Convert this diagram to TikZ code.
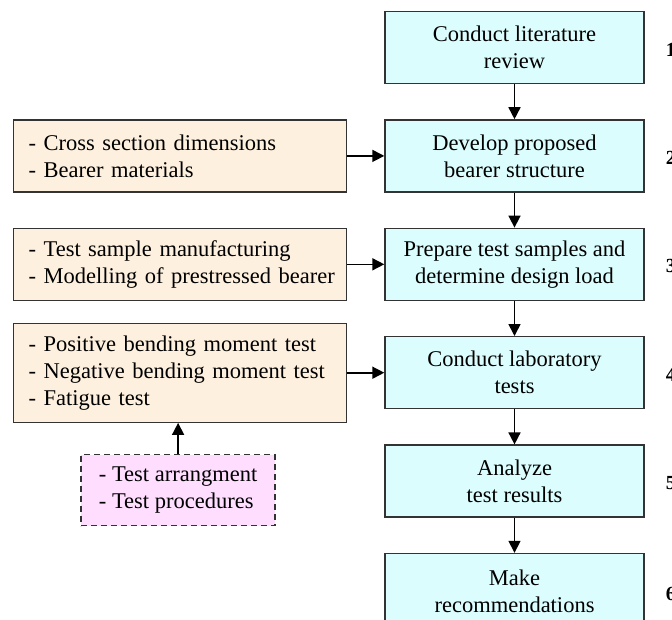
\documentclass[tikz,border=0pt]{standalone}
\usepackage{fontspec}
\setmainfont{Liberation Serif}
\usepackage{xcolor}
\usetikzlibrary{arrows.meta,positioning}
\definecolor{stagecyan}{HTML}{DCFDFD}
\definecolor{inputtan}{HTML}{FEF0DE}
\definecolor{extrapink}{HTML}{FEDDFE}

\begin{document}
\begin{tikzpicture}[font=\fontsize{22.5}{27}\selectfont,node distance=35pt,
 stage/.style={draw=black!80,line width=1.4pt,fill=stagecyan,align=center,minimum width=259pt,minimum height=72pt,inner sep=0pt},
 input/.style={draw=black!80,line width=1.4pt,fill=inputtan,align=left,text width=313pt,inner xsep=10pt,minimum height=72pt},
 extra/.style={draw=black!80,line width=1.4pt,dash pattern=on 6pt off 4pt,fill=extrapink,align=left,minimum width=194pt,minimum height=71pt},
 arrow/.style={-{Triangle[length=12pt,width=12pt]},line width=1.6pt}]
\useasboundingbox (0,0) rectangle (672pt,-619pt);
\node[stage] (lit) at (514.5pt,-47.5pt) {Conduct literature\\review};
\node[stage,below=of lit] (dev) {Develop proposed\\bearer structure};
\node[stage,below=of dev] (prep) {Prepare test samples and\\determine design load};
\node[stage,below=of prep] (lab) {Conduct laboratory\\tests};
\node[stage,below=of lab] (ana) {Analyze\\test results};
\node[stage,below=of ana,minimum height=76pt] (rec) {Make\\recommendations};
\node[input,left=37pt of dev] (sect) {\hspace*{5pt}- Cross section dimensions\\\hspace*{5pt}- Bearer materials};
\node[input,left=37pt of prep] (samp) {\hspace*{5pt}- Test sample manufacturing\\\hspace*{5pt}- Modelling of prestressed bearer};
\node[input,left=37pt of lab,minimum height=99pt] (tests) {\hspace*{5pt}- Positive bending moment test\\\hspace*{5pt}- Negative bending moment test\\\hspace*{5pt}- Fatigue test};
\node[extra,below=31pt of tests,xshift=-2pt] (arr) {- Test arrangment\\- Test procedures};
% step numbers
\foreach \s/\i in {lit/1,dev/2,prep/3,lab/4,ana/5,rec/6}
  \node[anchor=west,inner sep=0pt,font=\fontsize{20}{24}\selectfont\bfseries] (n\i) at ([xshift=21pt,yshift=-2pt]\s.east) {\i};
\draw[arrow] (lit)--(dev);
\draw[arrow] (dev)--(prep);
\draw[arrow] (prep)--(lab);
\draw[arrow] (lab)--(ana);
\draw[arrow] (ana)--(rec);
\draw[arrow] (sect)--(dev);
\draw[arrow] (samp)--(prep);
\draw[arrow] (tests)--(lab);
\draw[arrow] (arr)--(arr|-tests.south);
\end{tikzpicture}
\end{document}
